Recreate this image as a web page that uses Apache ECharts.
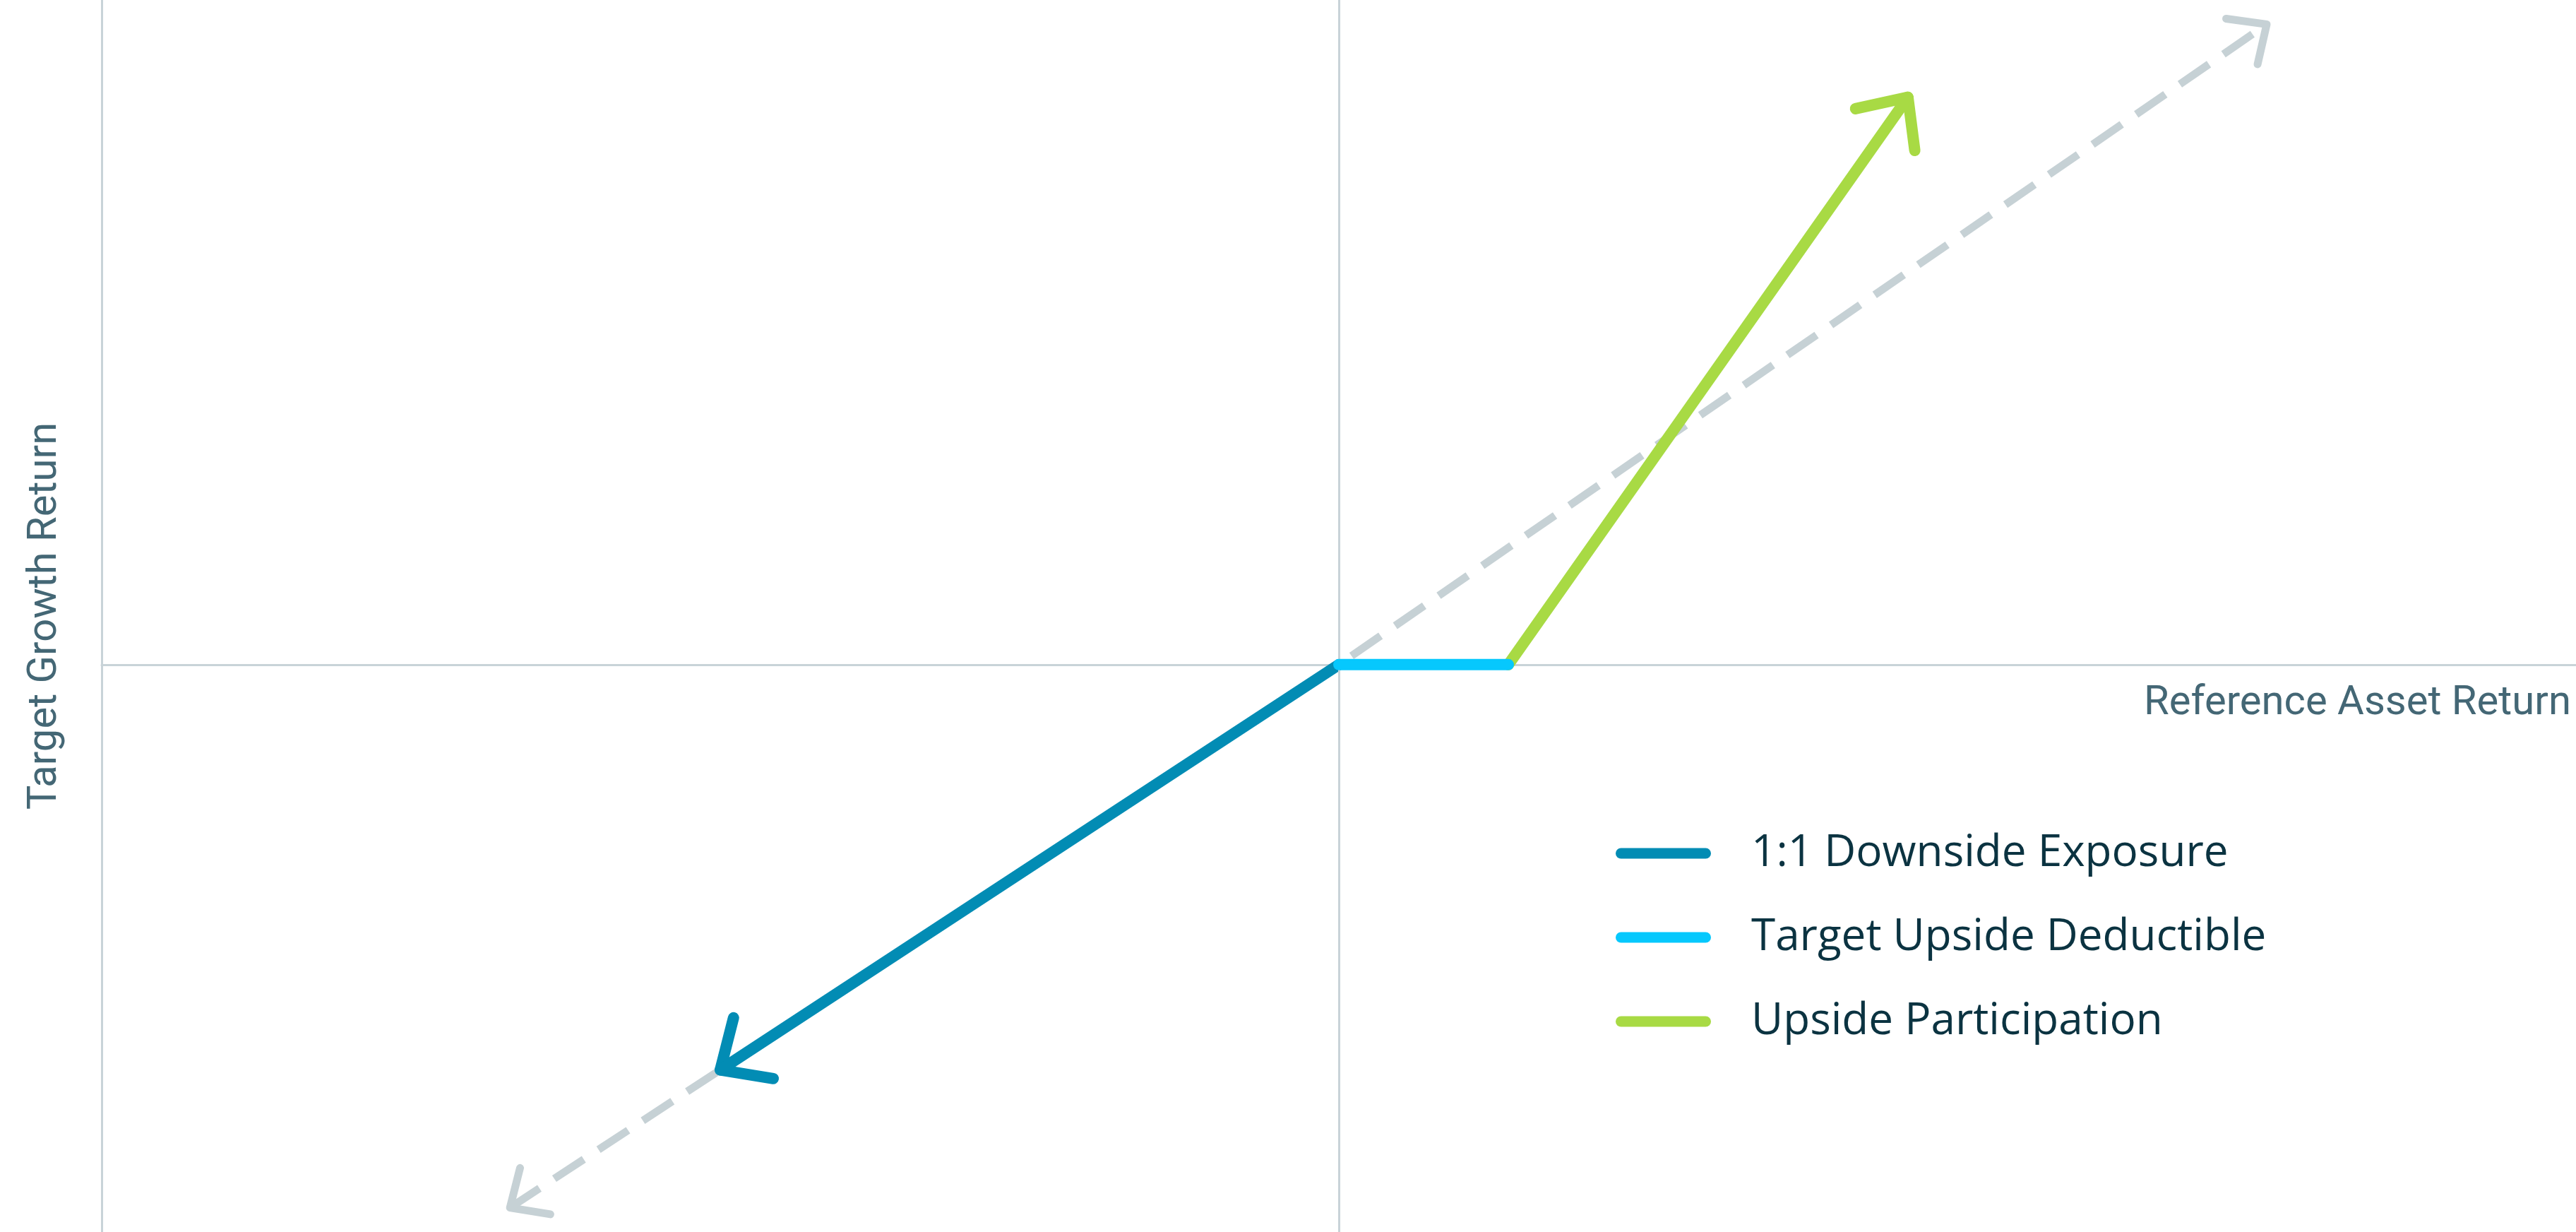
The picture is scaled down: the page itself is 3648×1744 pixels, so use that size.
<!DOCTYPE html>
<html><head><meta charset="utf-8">
<script src="https://cdn.jsdelivr.net/npm/echarts@6/dist/echarts.min.js"></script>
<style>html,body{margin:0;padding:0;background:#fff}#c{width:3648px;height:1744px}</style>
</head><body><div id="c"></div>
<script>
// ---- data ----
const seriesNames = ['1:1 Downside Exposure', 'Target Upside Deductible', 'Upside Participation'];
const referenceLine = [[-67, -67], [0, 0], [75, 79]];   // dashed 1:1 reference
const downside = [[0, 0], [-50, -50]];
const deductible = [[0, 0], [13.7, 0]];
const participation = [[13.7, 0], [46, 70]];
const xRange = [-100, 100];
const yRange = [-70, 82];
const xAxisName = 'Reference Asset Return';
const yAxisName = 'Target Growth Return';

// arrow heads: [fromX, fromY, tipX, tipY] built from the series above
const refArrows = [
  [referenceLine[1][0], referenceLine[1][1], referenceLine[0][0], referenceLine[0][1]],
  [referenceLine[1][0], referenceLine[1][1], referenceLine[2][0], referenceLine[2][1]]
];
const downArrow = [[downside[0][0], downside[0][1], downside[1][0], downside[1][1]]];
const upArrow = [[participation[0][0], participation[0][1], participation[1][0], participation[1][1]]];

const C_BLUE = '#028cb4', C_CYAN = '#06c8fd', C_GREEN = '#a8da44', C_REF = '#c6d1d5', C_AXIS = '#c8d3d8';
const C_NAME = '#446775', C_LEG = '#0b3341';
const FONT = 'Roboto';
const LEG_FONT = 'Open Sans';

function arrowRender(len, width, color) {
  return function (params, api) {
    const a = api.coord([api.value(0), api.value(1)]);
    const b = api.coord([api.value(2), api.value(3)]);
    const ang = Math.atan2(a[1] - b[1], a[0] - b[0]);
    const h = 42.5 * Math.PI / 180;
    const p1 = [b[0] + len * Math.cos(ang + h), b[1] + len * Math.sin(ang + h)];
    const p2 = [b[0] + len * Math.cos(ang - h), b[1] + len * Math.sin(ang - h)];
    return {
      type: 'polyline',
      shape: { points: [p1, b, p2] },
      style: { stroke: color, lineWidth: width, fill: 'none', lineCap: 'round', lineJoin: 'round' }
    };
  };
}

function lineSeries(name, data, color, z) {
  return {
    name: name, type: 'line', data: data, z: z, symbol: 'none', showSymbol: false,
    silent: true, animation: false,
    itemStyle: { color: color },
    lineStyle: { color: color, width: 16, cap: 'round', join: 'round' }
  };
}

const chart = echarts.init(document.getElementById('c'), null, { renderer: 'canvas', width: 3648, height: 1744 });
chart.setOption({
  backgroundColor: '#ffffff',
  animation: false,
  grid: { left: 144, top: 0, width: 3504, height: 1744, containLabel: false, outerBoundsMode: 'none' },
  xAxis: {
    type: 'value', min: xRange[0], max: xRange[1],
    axisLine: { show: true, onZero: true, lineStyle: { color: C_AXIS, width: 3 } },
    axisTick: { show: false }, axisLabel: { show: false }, splitLine: { show: false },
    name: xAxisName, nameLocation: 'end', nameGap: -7, nameMoveOverlap: false,
    nameTextStyle: { fontFamily: FONT, fontSize: 58, color: C_NAME, align: 'right', verticalAlign: 'top', lineHeight: 62, padding: [25, 0, 0, 0] }
  },
  yAxis: {
    type: 'value', min: yRange[0], max: yRange[1],
    axisLine: { show: false },
    axisTick: { show: false }, axisLabel: { show: false }, splitLine: { show: false },
    name: yAxisName, nameLocation: 'middle', nameGap: 80, nameMoveOverlap: false,
    nameTextStyle: { fontFamily: FONT, fontSize: 58, color: C_NAME, verticalAlign: 'middle' }
  },
  legend: {
    data: seriesNames, orient: 'vertical', left: 2283, top: 1168,
    itemWidth: 135, itemHeight: 15, itemGap: 49, selectedMode: false,
    icon: 'path://M7.5,0 H127.5 A7.5,7.5 0 0 1 127.5,15 H7.5 A7.5,7.5 0 0 1 7.5,0 Z',
    textStyle: { fontFamily: LEG_FONT, fontSize: 62, color: C_LEG, lineHeight: 70, padding: [0, 0, 0, 52] }
  },
  series: [
    {
      name: 'reference', type: 'line', data: referenceLine, z: 1, symbol: 'none', showSymbol: false,
      silent: true, animation: false,
      lineStyle: { color: C_REF, width: 11, type: [50, 25], cap: 'butt' },
      markLine: {
        silent: true, symbol: 'none', label: { show: false }, animation: false,
        lineStyle: { color: C_AXIS, width: 3, type: 'solid' },
        data: [{ xAxis: xRange[0] }, { xAxis: 0 }]
      }
    },
    {
      name: 'refArrows', type: 'custom', data: refArrows, z: 1, silent: true, animation: false,
      encode: { x: [0, 2], y: [1, 3] },
      renderItem: arrowRender(58, 11, C_REF)
    },
    lineSeries(seriesNames[0], downside, C_BLUE, 3),
    {
      name: 'downArrow', type: 'custom', data: downArrow, z: 3, silent: true, animation: false,
      encode: { x: [0, 2], y: [1, 3] },
      renderItem: arrowRender(76, 16, C_BLUE)
    },
    lineSeries(seriesNames[2], participation, C_GREEN, 4),
    {
      name: 'upArrow', type: 'custom', data: upArrow, z: 4, silent: true, animation: false,
      encode: { x: [0, 2], y: [1, 3] },
      renderItem: arrowRender(76, 16, C_GREEN)
    },
    lineSeries(seriesNames[1], deductible, C_CYAN, 5)
  ]
});
</script>
</body></html>
